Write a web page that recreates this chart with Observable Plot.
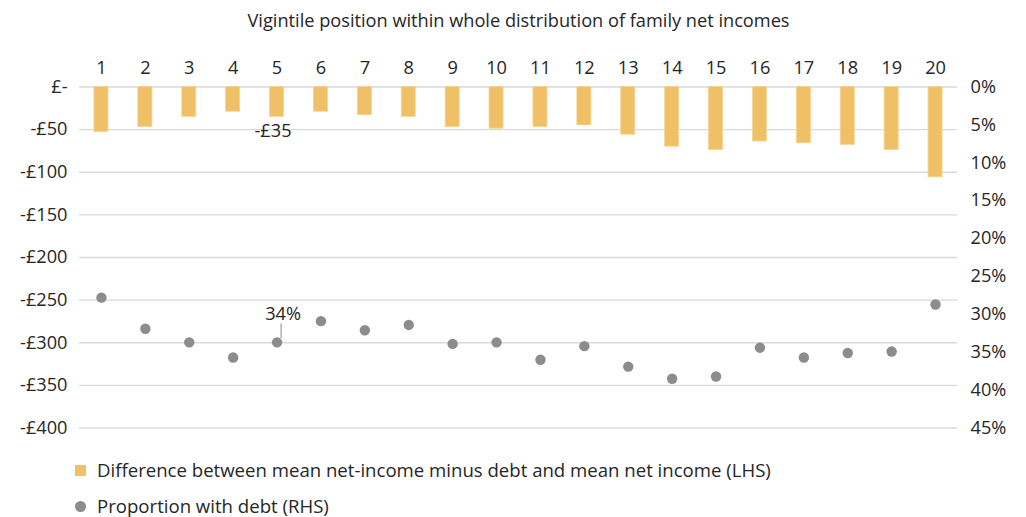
<!DOCTYPE html>
<html>
<head>
<meta charset="utf-8">
<script src="https://cdn.jsdelivr.net/npm/d3@7"></script>
<script src="https://cdn.jsdelivr.net/npm/@observablehq/plot@0.6"></script>
<style>
  html, body { margin: 0; padding: 0; background: #fff; }
  body { width: 1026px; height: 517px; overflow: hidden; font-family: "Open Sans", "Noto Sans", sans-serif; color: #262626; }
  #chart svg { display: block; }
  .legend { position: relative; height: 72px; font-size: 18.6px; line-height: 24px; }
  .item { position: absolute; left: 75px; display: flex; align-items: center; }
  .swatch { display: inline-block; width: 11px; height: 11px; margin-right: 11px; }
  .dotsw { display: inline-block; width: 11px; height: 11px; border-radius: 50%; margin-right: 11px; }
</style>
</head>
<body>
<div id="chart"></div>
<div class="legend">
  <div class="item" style="top:13px"><span class="swatch" style="background:#F0C066"></span><span>Difference between mean net-income minus debt and mean net income (LHS)</span></div>
  <div class="item" style="top:49px"><span class="dotsw" style="background:#8C8C8C"></span><span>Proportion with debt (RHS)</span></div>
</div>
<script>
const title = "Vigintile position within whole distribution of family net incomes";
const vigintiles = [1,2,3,4,5,6,7,8,9,10,11,12,13,14,15,16,17,18,19,20];
const difference = [-53,-47,-35,-29,-35,-29,-33,-35,-47,-49,-47,-45,-56,-70,-74,-64,-66,-68,-74,-106];
const proportion = [27.8,31.9,33.7,35.7,33.7,30.9,32.1,31.4,33.9,33.7,36.0,34.2,36.9,38.5,38.2,34.4,35.7,35.1,34.9,28.7];
const leftTicks = [0,-50,-100,-150,-200,-250,-300,-350,-400];
const rightTicks = [0,5,10,15,20,25,30,35,40,45];
const barLabel = {vigintile: 5, text: "-£35"};
const dotLabel = {vigintile: 5, text: "34%"};

// right-hand scale: 0%..45% maps onto £0..-£400
const pctToY = p => -p * 400 / 45;

const data = vigintiles.map((v, i) => ({v: String(v), diff: difference[i], pct: proportion[i]}));
const xDomain = vigintiles.map(String);

const fontFam = "'Open Sans', 'Noto Sans', sans-serif";
const fs = 18.2;

const chart = Plot.plot({
  width: 1026,
  height: 445,
  marginTop: 86.5,
  marginBottom: 17.5,
  marginLeft: 79,
  marginRight: 69,
  style: {fontFamily: fontFam, fontSize: fs + "px", color: "#262626", background: "#fff"},
  x: {type: "band", domain: xDomain, paddingInner: 0.68, paddingOuter: 0.34, round: false},
  y: {domain: [-400, 0]},
  marks: [
    Plot.ruleY(leftTicks, {stroke: "#D9D9D9", strokeWidth: 1.3}),
    Plot.barY(data, {x: "v", y: "diff", fill: "#F0C066", stroke: "#F5D593", strokeWidth: 0.8}),
    Plot.dot(data, {x: "v", y: d => pctToY(d.pct), r: 5.2, fill: "#8C8C8C"}),
    Plot.axisX({anchor: "top", tickSize: 0, tickPadding: 13.5, label: null, fontSize: fs}),
    Plot.axisY({anchor: "left", ticks: leftTicks, tickSize: 0, tickPadding: 12, label: null, fontSize: fs,
      tickFormat: v => v === 0 ? "£-" : "-£" + Math.abs(v)}),
    Plot.axisY({anchor: "right", ticks: rightTicks.map(pctToY), tickSize: 0, tickPadding: 13, label: null, fontSize: fs,
      tickFormat: v => Math.round(-v * 45 / 400) + "%"}),
    Plot.text([title], {frameAnchor: "top", lineAnchor: "middle", dy: -66, text: d => d, fontSize: fs, fill: "#262626"}),
    Plot.text([barLabel], {x: d => String(d.vigintile), y: d => difference[d.vigintile - 1], text: "text", dy: 14, dx: -4, fill: "#262626", fontSize: fs}),
    Plot.text([dotLabel], {x: d => String(d.vigintile), y: d => pctToY(proportion[d.vigintile - 1]), text: "text", dy: -28, dx: 6, fill: "#262626", fontSize: fs}),
    Plot.link([dotLabel], {
      x1: d => String(d.vigintile), x2: d => String(d.vigintile),
      y1: d => pctToY(proportion[d.vigintile - 1] - 0.55), y2: d => pctToY(proportion[d.vigintile - 1] - 2.5),
      dx: 4, stroke: "#8C8C8C", strokeWidth: 1
    })
  ]
});
document.getElementById("chart").append(chart);
</script>
</body>
</html>
